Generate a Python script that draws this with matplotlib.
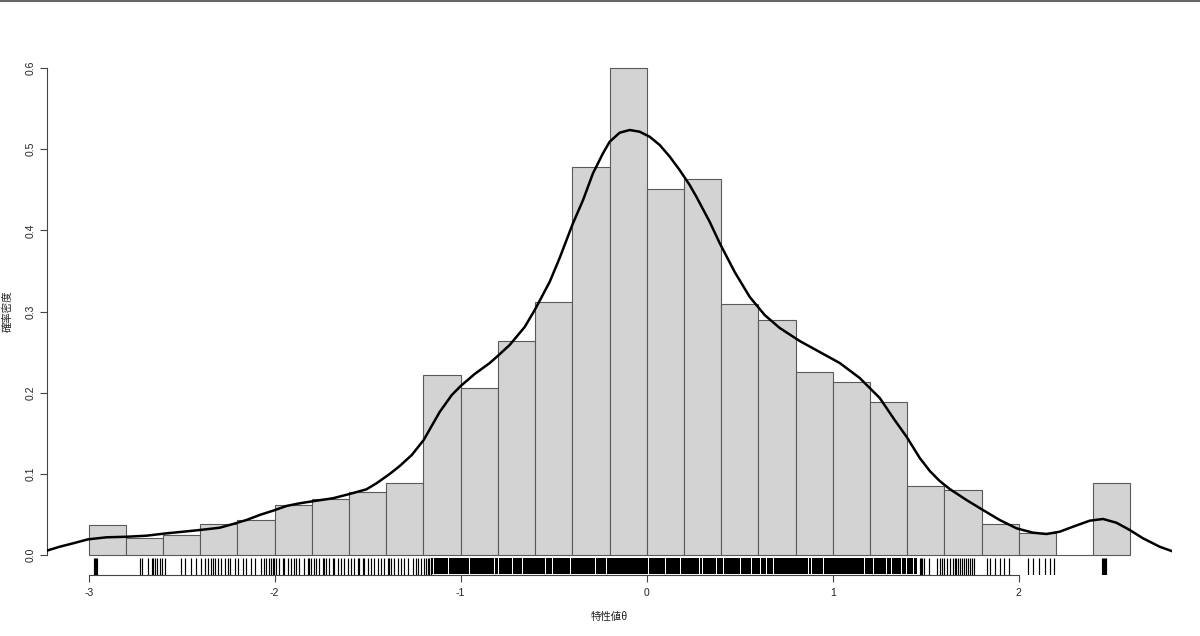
import matplotlib
matplotlib.use("Agg")
import matplotlib.pyplot as plt
from matplotlib.lines import Line2D

# ---------------- data ----------------
bin_edges = [-3.0, -2.8, -2.6, -2.4, -2.2, -2.0, -1.8, -1.6, -1.4, -1.2, -1.0,
             -0.8, -0.6, -0.4, -0.2, 0.0, 0.2, 0.4, 0.6, 0.8, 1.0, 1.2, 1.4,
             1.6, 1.8, 2.0, 2.2, 2.4, 2.6]
hist_density = [0.037, 0.021, 0.025, 0.038, 0.043, 0.062, 0.069, 0.078, 0.089,
                0.222, 0.206, 0.264, 0.312, 0.478, 0.600, 0.451, 0.463, 0.309,
                0.290, 0.226, 0.213, 0.189, 0.085, 0.080, 0.038, 0.027, 0.0,
                0.089]

kde_x = [-3.226, -3.156, -3.084, -3.004, -2.905, -2.797, -2.690, -2.582, -2.493,
         -2.403, -2.296, -2.224, -2.152, -2.081, -2.009, -1.937, -1.866, -1.776,
         -1.687, -1.597, -1.507, -1.453, -1.382, -1.328, -1.263, -1.199, -1.113,
         -1.048, -1.000, -0.925, -0.844, -0.801, -0.737, -0.656, -0.602, -0.522,
         -0.468, -0.398, -0.342, -0.289, -0.235, -0.199, -0.145, -0.091, -0.038,
         0.016, 0.070, 0.124, 0.177, 0.231, 0.267, 0.339, 0.392, 0.473, 0.554,
         0.634, 0.715, 0.823, 0.930, 1.038, 1.145, 1.253, 1.333, 1.398, 1.468,
         1.522, 1.575, 1.629, 1.719, 1.808, 1.898, 1.988, 2.077, 2.149, 2.220,
         2.292, 2.382, 2.453, 2.525, 2.597, 2.668, 2.758, 2.826]
kde_y = [0.0053, 0.0102, 0.0144, 0.0193, 0.0218, 0.0225, 0.0238, 0.0267, 0.0287,
         0.0308, 0.0336, 0.0382, 0.0431, 0.0493, 0.0546, 0.0604, 0.0637, 0.0669,
         0.0699, 0.0752, 0.0809, 0.0883, 0.0998, 0.1096, 0.1232, 0.1417, 0.1762,
         0.1971, 0.2082, 0.2230, 0.2365, 0.2452, 0.2587, 0.2809, 0.3018, 0.3363,
         0.3659, 0.4078, 0.4374, 0.4702, 0.4949, 0.5092, 0.5203, 0.5236, 0.5215,
         0.5153, 0.5051, 0.4907, 0.4743, 0.4558, 0.4414, 0.4103, 0.3844, 0.3487,
         0.3179, 0.2957, 0.2797, 0.2636, 0.2501, 0.2365, 0.2181, 0.1934, 0.1663,
         0.1454, 0.1195, 0.1035, 0.0912, 0.0813, 0.0678, 0.0554, 0.0431, 0.0329,
         0.0275, 0.0259, 0.0287, 0.0349, 0.0423, 0.0444, 0.0398, 0.0308, 0.0206,
         0.0102, 0.0046]

# individual rug ticks (sparse regions)
rug_ticks = [-2.970, -2.965, -2.960, -2.955,
             -2.726, -2.715, -2.683, -2.661, -2.656, -2.645, -2.634, -2.618,
             -2.608, -2.591,
             -2.502, -2.484, -2.448, -2.421, -2.394, -2.376, -2.358, -2.340,
             -2.331, -2.323, -2.305, -2.287, -2.269, -2.251, -2.242, -2.215,
             -2.197, -2.170, -2.152, -2.125, -2.108,
             -2.074, -2.056, -2.047, -2.029, -2.020, -2.011, -2.002, -1.993,
             -1.975, -1.957, -1.948, -1.930, -1.912, -1.894, -1.885, -1.867,
             -1.840, -1.823, -1.814, -1.805, -1.787, -1.778, -1.760, -1.742,
             -1.733, -1.724, -1.706, -1.688, -1.679, -1.661, -1.643, -1.625,
             -1.608, -1.590, -1.572, -1.554, -1.545, -1.527, -1.518, -1.500,
             -1.482, -1.464, -1.446, -1.428, -1.410, -1.392, -1.383, -1.375,
             -1.357, -1.339, -1.321, -1.303, -1.285, -1.258, -1.240, -1.231,
             -1.213, -1.195, -1.187, -1.177, -1.168, -1.160,
             1.468, 1.475, 1.482, 1.490, 1.520, 1.560, 1.575, 1.590, 1.600,
             1.615, 1.630, 1.645, 1.655, 1.665, 1.675, 1.685, 1.695, 1.705,
             1.715, 1.725, 1.737, 1.750, 1.760, 1.830, 1.845, 1.870, 1.900,
             1.920, 1.950, 2.050, 2.075, 2.110, 2.140, 2.167, 2.190,
             2.450, 2.455, 2.460, 2.465, 2.470]
# rug ranges where ticks are so dense that they merge into solid black
rug_solid = [(-1.160, -1.148), (-1.142, -1.068), (-1.062, -0.955), (-0.949, -0.820),
             (-0.814, -0.799), (-0.793, -0.723), (-0.717, -0.670), (-0.664, -0.546),
             (-0.540, -0.508), (-0.502, -0.412), (-0.406, -0.277), (-0.271, -0.218),
             (-0.212, 0.008), (0.014, 0.099), (0.105, 0.180), (0.186, 0.282),
             (0.288, 0.298), (0.304, 0.373), (0.379, 0.411), (0.417, 0.502),
             (0.508, 0.562), (0.568, 0.610), (0.616, 0.642), (0.648, 0.680),
             (0.686, 0.868), (0.874, 0.884), (0.890, 0.949), (0.955, 1.169),
             (1.175, 1.217), (1.223, 1.287), (1.293, 1.314), (1.320, 1.368),
             (1.374, 1.395), (1.401, 1.432), (1.438, 1.452)]

x_ticks = [-3, -2, -1, 0, 1, 2]
x_tick_labels = ["-3", "-2", "-1", "0", "1", "2"]
y_ticks = [0.0, 0.1, 0.2, 0.3, 0.4, 0.5, 0.6]
y_tick_labels = ["0.0", "0.1", "0.2", "0.3", "0.4", "0.5", "0.6"]
x_label = "特性値θ"
y_label = "確率密度"

# ---------------- plot ----------------
plt.rcParams['font.family'] = ['Liberation Sans', 'Noto Sans CJK JP', 'DejaVu Sans']

fig = plt.figure(figsize=(12, 6.36), dpi=100)
ax = fig.add_axes([47 / 1200, 1 - 574.5 / 636, (1172 - 47) / 1200, (574.5 - 48.5) / 636])

lefts = bin_edges[:-1]
widths = [b - a for a, b in zip(bin_edges[:-1], bin_edges[1:])]
ax.bar(lefts, hist_density, width=widths, align='edge', color='#d3d3d3',
       edgecolor='#5a5a5a', linewidth=0.8, zorder=1)

ax.plot(kde_x, kde_y, color='black', linewidth=1.8, zorder=3,
        solid_joinstyle='round', solid_capstyle='round')

trans = ax.get_xaxis_transform()
ax.vlines(rug_ticks, 0, 0.032, transform=trans, color='black', linewidth=0.85, zorder=2)
for a, b in rug_solid:
    ax.fill_between([a, b], 0, 0.032, transform=trans, color='black',
                    linewidth=0, zorder=2)

ax.set_xlim(-3.224, 2.824)
ax.set_ylim(-0.024, 0.624)

for s in ['top', 'right']:
    ax.spines[s].set_visible(False)
ax.spines['left'].set_bounds(0.0, 0.6)
ax.spines['bottom'].set_bounds(-3, 2)
for s in ['left', 'bottom']:
    ax.spines[s].set_color('#444444')
    ax.spines[s].set_linewidth(0.8)

ax.set_xticks(x_ticks)
ax.set_xticklabels(x_tick_labels)
ax.set_yticks(y_ticks)
ax.set_yticklabels(y_tick_labels, rotation=90, va='center')
ax.tick_params(axis='both', direction='out', length=5, width=0.8, color='#444444',
               labelsize=7.5, labelcolor='#222222')
ax.tick_params(axis='x', pad=5)
ax.tick_params(axis='y', pad=3)

fig.text(609.5 / 1200, 1 - 617 / 636, x_label, ha='center', va='center',
         fontsize=7.5, color='#222222', family=['Noto Sans CJK JP', 'DejaVu Sans'])
fig.text(8 / 1200, 1 - 311.5 / 636, y_label, ha='center', va='center', rotation=90,
         fontsize=7.5, color='#222222', family=['Noto Sans CJK JP', 'DejaVu Sans'])

fig.add_artist(Line2D([0, 1], [1 - 0.8 / 636, 1 - 0.8 / 636], transform=fig.transFigure,
                      color='#666666', linewidth=1.5))

fig.savefig("out.png", dpi=100)
